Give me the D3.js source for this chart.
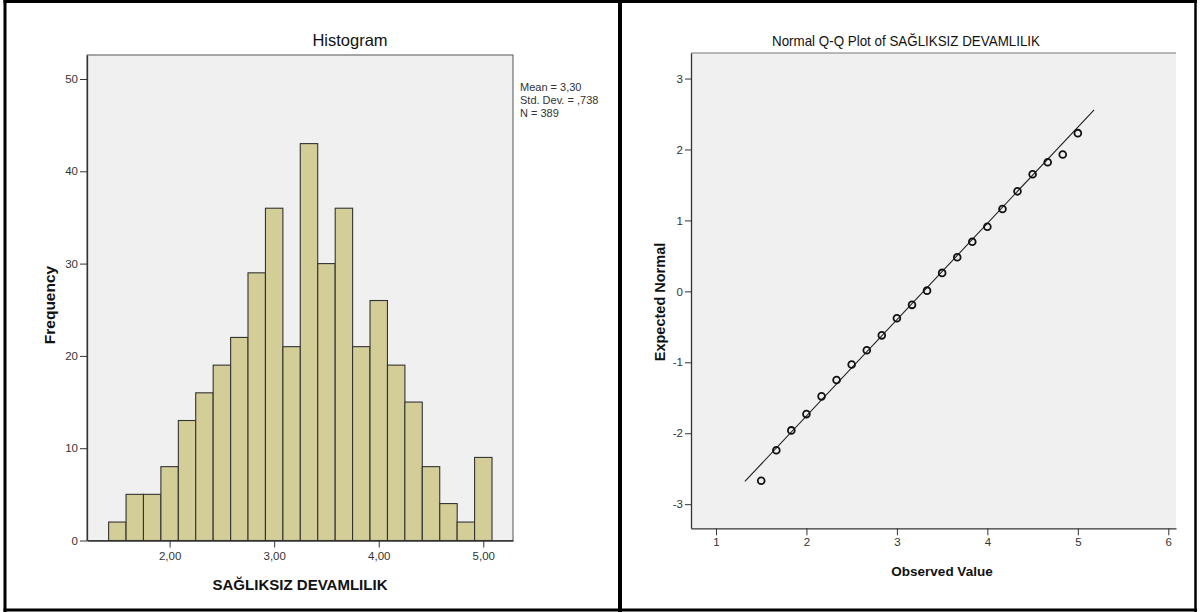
<!DOCTYPE html>
<html><head><meta charset="utf-8">
<script src="https://cdn.jsdelivr.net/npm/d3@7"></script>
<style>
body{margin:0;background:#fff;}
svg{display:block;font-family:"Liberation Sans",Arial,sans-serif;}
.tick text{fill:#333;font-size:11px;}
</style></head><body>
<svg id="c" width="1203" height="612"></svg>
<script>
// ---- Histogram data ----
const binCenters = [1.5,1.667,1.833,2.0,2.167,2.333,2.5,2.667,2.833,3.0,3.167,3.333,3.5,3.667,3.833,4.0,4.167,4.333,4.5,4.667,4.833,5.0];
const binWidth = 1/6;
const frequencies = [2,5,5,8,13,16,19,22,29,36,21,43,30,36,21,26,19,15,8,4,2,9];
const histXTicks = [2,3,4,5];
const histXTickLabels = ["2,00","3,00","4,00","5,00"];
const histYTicks = [0,10,20,30,40,50];
const statsLines = ["Mean = 3,30","Std. Dev. = ,738","N = 389"];

// ---- Q-Q data ----
const observed = [1.5,1.667,1.833,2.0,2.167,2.333,2.5,2.667,2.833,3.0,3.167,3.333,3.5,3.667,3.833,4.0,4.167,4.333,4.5,4.667,4.833,5.0];
const expectedNormal = [-2.67,-2.24,-1.96,-1.73,-1.48,-1.25,-1.03,-0.83,-0.62,-0.38,-0.19,0.01,0.26,0.48,0.70,0.91,1.16,1.41,1.65,1.82,1.93,2.23];
const refLineX = [1.32,5.18];
const refLineY = [-2.68,2.56];
const qqXTicks = [1,2,3,4,5,6];
const qqYTicks = [3,2,1,0,-1,-2,-3];

const svg = d3.select("#c");

// outer frames
svg.append("rect").attr("x",0).attr("y",0).attr("width",1203).attr("height",612).attr("fill","#fff");
svg.append("line").attr("x1",3.5).attr("x2",1197).attr("y1",1.5).attr("y2",1.5).attr("stroke","#000").attr("stroke-width",3);
svg.append("line").attr("x1",3.5).attr("x2",1197).attr("y1",610).attr("y2",610).attr("stroke","#000").attr("stroke-width",3);
svg.append("line").attr("x1",5).attr("x2",5).attr("y1",0).attr("y2",612).attr("stroke","#000").attr("stroke-width",3);
svg.append("line").attr("x1",620).attr("x2",620).attr("y1",0).attr("y2",612).attr("stroke","#000").attr("stroke-width",4);
svg.append("line").attr("x1",1195.5).attr("x2",1195.5).attr("y1",0).attr("y2",612).attr("stroke","#000").attr("stroke-width",2.5);

// ===== Histogram =====
const hx = d3.scaleLinear().domain([1.21,5.284]).range([87,513]);
const hy = d3.scaleLinear().domain([0,52.6]).range([540.5,55]);
const h = svg.append("g");
h.append("rect").attr("x",hx.range()[0]).attr("y",hy.range()[1])
  .attr("width",hx.range()[1]-hx.range()[0]).attr("height",hy.range()[0]-hy.range()[1])
  .attr("fill","#f0f0f0").attr("stroke","#555").attr("stroke-width",1);
h.selectAll("rect.bar").data(binCenters).join("rect").attr("class","bar")
  .attr("x",(d)=>hx(d-binWidth/2)).attr("width",(d)=>hx(d+binWidth/2)-hx(d-binWidth/2))
  .attr("y",(d,i)=>hy(frequencies[i])).attr("height",(d,i)=>hy(0)-hy(frequencies[i]))
  .attr("fill","#d3ce97").attr("stroke","#333").attr("stroke-width",1.1);
const hyAxis = h.append("g").attr("transform",`translate(${hx.range()[0]},0)`)
  .call(d3.axisLeft(hy).tickValues(histYTicks).tickSize(7).tickSizeOuter(0).tickPadding(2).tickFormat(d3.format("d")));
const hxAxis = h.append("g").attr("transform",`translate(0,${hy(0)})`)
  .call(d3.axisBottom(hx).tickValues(histXTicks).tickSize(7).tickSizeOuter(0).tickPadding(4).tickFormat((d,i)=>histXTickLabels[i]));
[hyAxis,hxAxis].forEach(a=>{a.select(".domain").attr("stroke","#333").attr("stroke-width",1.3);a.selectAll(".tick line").attr("stroke","#333");a.selectAll("text").style("font-size","11.5px").attr("fill","#333");});
h.append("text").attr("x",350).attr("y",46).attr("text-anchor","middle").style("font-size","16.5px").attr("fill","#111").text("Histogram");
h.append("text").attr("transform","translate(55,305) rotate(-90)").attr("text-anchor","middle").style("font-size","15.5px").style("font-weight","bold").attr("fill","#111").text("Frequency");
h.append("text").attr("x",300).attr("y",590).attr("text-anchor","middle").style("font-size","15px").style("font-weight","bold").attr("fill","#111")
  .attr("textLength",175).attr("lengthAdjust","spacingAndGlyphs").text("SAĞLIKSIZ DEVAMLILIK");
h.selectAll("text.stat").data(statsLines).join("text").attr("class","stat")
  .attr("x",520).attr("y",(d,i)=>91+i*13).style("font-size","11px").attr("fill","#333").text(d=>d);

// ===== Q-Q plot =====
const qx = d3.scaleLinear().domain([0.724,6.085]).range([691,1176]);
const qy = d3.scaleLinear().domain([-3.34,3.36]).range([528.3,53]);
const q = svg.append("g");
q.append("rect").attr("x",qx.range()[0]).attr("y",qy.range()[1])
  .attr("width",qx.range()[1]-qx.range()[0]).attr("height",qy.range()[0]-qy.range()[1])
  .attr("fill","#f0f0f0");
q.append("line").attr("x1",qx.range()[0]).attr("x2",qx.range()[1]).attr("y1",qy.range()[1]).attr("y2",qy.range()[1]).attr("stroke","#777").attr("stroke-width",1);
q.append("line").attr("x1",qx(refLineX[0])).attr("y1",qy(refLineY[0])).attr("x2",qx(refLineX[1])).attr("y2",qy(refLineY[1]))
  .attr("stroke","#222").attr("stroke-width",1.1);
q.selectAll("circle").data(observed).join("circle")
  .attr("cx",d=>qx(d)).attr("cy",(d,i)=>qy(expectedNormal[i])).attr("r",3.4)
  .attr("fill","none").attr("stroke","#111").attr("stroke-width",1.8);
const qyAxis = q.append("g").attr("transform",`translate(${qx.range()[0]},0)`)
  .call(d3.axisLeft(qy).tickValues(qqYTicks).tickSize(6).tickSizeOuter(0).tickPadding(2).tickFormat(d3.format("d")));
const qxAxis = q.append("g").attr("transform",`translate(0,${qy.range()[0]})`)
  .call(d3.axisBottom(qx).tickValues(qqXTicks).tickSize(7).tickSizeOuter(0).tickPadding(3).tickFormat(d3.format("d")));
[qyAxis,qxAxis].forEach(a=>{a.select(".domain").attr("stroke","#333").attr("stroke-width",1.3);a.selectAll(".tick line").attr("stroke","#333");a.selectAll("text").style("font-size","11.5px").attr("fill","#333");});
qyAxis.selectAll("text").text(d=>d<0?"-"+Math.abs(d):String(d));
q.append("text").attr("x",906).attr("y",46).attr("text-anchor","middle").style("font-size","15px").attr("fill","#111")
  .attr("textLength",268).attr("lengthAdjust","spacingAndGlyphs").text("Normal Q-Q Plot of SAĞLIKSIZ DEVAMLILIK");
q.append("text").attr("transform","translate(665,302) rotate(-90)").attr("text-anchor","middle").style("font-size","14.5px").style("font-weight","bold").attr("fill","#111").text("Expected Normal");
q.append("text").attr("x",942).attr("y",576).attr("text-anchor","middle").style("font-size","13.5px").style("font-weight","bold").attr("fill","#111").text("Observed Value");
</script></body></html>
